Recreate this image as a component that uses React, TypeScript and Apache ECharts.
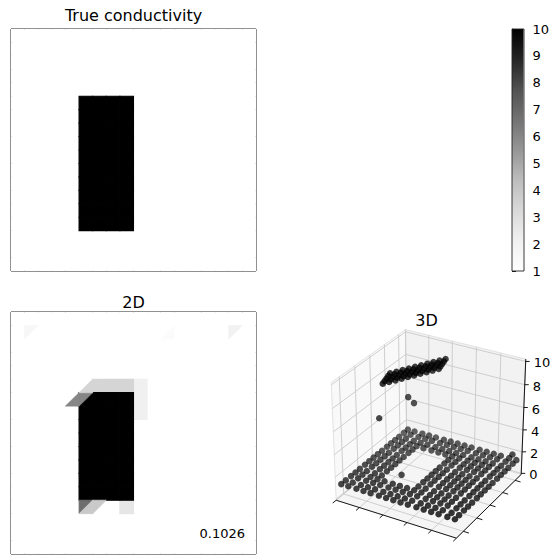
import React, { useEffect, useRef } from 'react';
import * as echarts from 'echarts';

const FONT = 'DejaVu Sans';

// ---------- colour scale (matplotlib "Greys") ----------
const greysStops = ['#ffffff', '#f0f0f0', '#d9d9d9', '#bdbdbd', '#969696', '#737373', '#525252', '#252525', '#000000'];
const valueMin = 1;
const valueMax = 10;

// ---------- True conductivity (18 x 18 cells, '.' = 1, '#' = 10) ----------
const trueMap = [
  '..................',
  '..................',
  '..................',
  '..................',
  '..................',
  '.....####.........',
  '.....####.........',
  '.....####.........',
  '.....####.........',
  '.....####.........',
  '.....####.........',
  '.....####.........',
  '.....####.........',
  '.....####.........',
  '.....####.........',
  '..................',
  '..................',
  '..................',
];

// ---------- 2D reconstruction (18 x 18 cells, split into triangles) ----------
const recon2DMap = [
  '..................',
  '..................',
  '..................',
  '..................',
  '..................',
  '......lllv........',
  '.....####v........',
  '.....####v........',
  '.....####.........',
  '.....####.........',
  '.....####.........',
  '.....####.........',
  '.....####.........',
  '.....####.........',
  '........m.........',
  '..................',
  '..................',
  '..................',
];
const mapLegend: Record<string, number> = { '.': 1, '#': 10, l: 3.4, v: 2.1, m: 2.6 };
// [col, row, value, shape (1 = upper-left half, 2 = lower-right half)]
const recon2DTriangles: number[][] = [
  [4, 6, 6.0, 2],
  [5, 6, 6.0, 1],
  [5, 5, 3.4, 2],
  [5, 14, 6.8, 1],
  [5, 14, 3.9, 2],
  [6, 14, 3.9, 1],
  [1, 1, 1.6, 1],
  [11, 1, 1.3, 2],
  [16, 1, 2.0, 1],
  [16, 16, 1.5, 2],
];
const relError = '0.1026';

// ---------- 3D scatter ----------
const nodeX = [0.03, 0.09, 0.16, 0.22, 0.28, 0.35, 0.41, 0.47, 0.53, 0.59, 0.66, 0.72, 0.78, 0.84, 0.91, 0.97];
const nodeY = [0.03, 0.09, 0.16, 0.22, 0.28, 0.35, 0.41, 0.47, 0.53, 0.59, 0.66, 0.72, 0.78, 0.84, 0.91, 0.97];
// row j -> nodeY[j] (front to back), char i -> nodeX[i]; '.' = point at floorZ
const floorMap = [
  '................',
  '................',
  '................',
  '................',
  '....    ........',
  '....    ........',
  '....    ........',
  '....    ........',
  '....    ........',
  '....    ........',
  '....    ........',
  '....    ........',
  '................',
  '................',
  '................',
  '................',
];
const floorZ = 1.3;
const topStripeX = [0.25, 0.275, 0.3, 0.325, 0.35, 0.375, 0.4, 0.425, 0.45, 0.475];
const topStripeY = [
  [0.27, 0.295, 0.32, 0.345, 0.37],
  [0.314, 0.339, 0.364, 0.389, 0.414],
  [0.358, 0.383, 0.408, 0.433, 0.458],
  [0.402, 0.427, 0.452, 0.477, 0.502],
  [0.446, 0.471, 0.496, 0.521, 0.546],
  [0.49, 0.515, 0.54, 0.565, 0.59],
  [0.534, 0.559, 0.584, 0.609, 0.634],
  [0.578, 0.603, 0.628, 0.653, 0.678],
  [0.622, 0.647, 0.672, 0.697, 0.722],
  [0.666, 0.691, 0.716, 0.741, 0.766],
];
const topStripeZ = [9.5, 9.6, 9.7, 9.8, 9.9];
const strayX = [0.34, 0.1, 0.15, 0.2, 0.97];
const strayY = [0.36, 0.45, 0.78, 0.78, 0.9];
const strayZ = [1.3, 5.2, 5.6, 5.2, 2.2];

const xTicks3d = [0, 0.2, 0.4, 0.6, 0.8, 1];
const yTicks3d = [0.1, 0.3, 0.5, 0.7, 0.9];
const zTicks3d = [0, 2, 4, 6, 8, 10];
const zLim = [-0.1, 10.2];

// ---------- helpers ----------
function hexRgb(h: string) {
  return [1, 3, 5].map((k) => parseInt(h.slice(k, k + 2), 16));
}
function greyColor(v: number) {
  const t = Math.min(1, Math.max(0, (v - valueMin) / (valueMax - valueMin)));
  const p = t * (greysStops.length - 1);
  const i = Math.min(greysStops.length - 2, Math.floor(p));
  const f = p - i;
  const a = hexRgb(greysStops[i]);
  const b = hexRgb(greysStops[i + 1]);
  const c = a.map((x, k) => Math.round(x + (b[k] - x) * f));
  return `rgb(${c.join(',')})`;
}

// matplotlib-like 3D view (elev 30, azim -60, dist 10)
const ELEV = 30;
const AZIM = -60;
const DIST = 10;
const VIEW_CX = 430.1;
const VIEW_CY = 430.3;
const VIEW_KX = 1388;
const VIEW_KY = 1345;
const cam = (() => {
  const e = (ELEV * Math.PI) / 180;
  const a = (AZIM * Math.PI) / 180;
  const R = [0.5, 0.5, 0.5];
  const E = [R[0] + Math.cos(a) * Math.cos(e) * DIST, R[1] + Math.sin(a) * Math.cos(e) * DIST, R[2] + Math.sin(e) * DIST];
  const nn = [E[0] - R[0], E[1] - R[1], E[2] - R[2]];
  const nl = Math.hypot(nn[0], nn[1], nn[2]);
  const n = nn.map((x) => x / nl);
  const uu = [-n[1], n[0], 0];
  const ul = Math.hypot(uu[0], uu[1], uu[2]);
  const u = uu.map((x) => x / ul);
  const v = [n[1] * u[2] - n[2] * u[1], n[2] * u[0] - n[0] * u[2], n[0] * u[1] - n[1] * u[0]];
  return { E, n, u, v };
})();
function project(x: number, y: number, z: number) {
  const zn = (z - zLim[0]) / (zLim[1] - zLim[0]);
  const d = [x - cam.E[0], y - cam.E[1], zn - cam.E[2]];
  const depth = -(cam.n[0] * d[0] + cam.n[1] * d[1] + cam.n[2] * d[2]);
  const X = (cam.u[0] * d[0] + cam.u[1] * d[1] + cam.u[2] * d[2]) / depth;
  const Y = (cam.v[0] * d[0] + cam.v[1] * d[1] + cam.v[2] * d[2]) / depth;
  return [VIEW_CX + VIEW_KX * X, VIEW_CY - VIEW_KY * Y, depth];
}

function cellsFromMap(map: string[], legend: Record<string, number>) {
  const out: number[][] = [];
  map.forEach((row, r) => {
    row.split('').forEach((ch, c) => {
      out.push([c, r, legend[ch] ?? 1, 0]);
    });
  });
  out.sort((a, b) => a[2] - b[2]);
  return out;
}

function renderCell(params: any, api: any) {
  const c = api.value(0);
  const r = api.value(1);
  const v = api.value(2);
  const s = api.value(3);
  const tl = api.coord([c, r]);
  const br = api.coord([c + 1, r + 1]);
  const tr = [br[0], tl[1]];
  const bl = [tl[0], br[1]];
  let pts;
  if (s === 1) pts = [tl, tr, bl];
  else if (s === 2) pts = [tr, br, bl];
  else pts = [tl, tr, br, bl];
  const col = greyColor(v);
  return {
    type: 'polygon',
    shape: { points: pts },
    style: { fill: col, stroke: v > 1 ? col : null, lineWidth: s === 0 ? 1.1 : 0.8, lineJoin: 'miter' },
  };
}

function buildScatter() {
  const pts: number[][] = [];
  floorMap.forEach((row, j) => {
    row.split('').forEach((ch, i) => {
      if (ch === '.') pts.push([nodeX[i], nodeY[j], floorZ]);
    });
  });
  topStripeX.forEach((x, k) => {
    topStripeY[k].forEach((y, m) => pts.push([x, y, topStripeZ[m]]));
  });
  strayX.forEach((x, k) => pts.push([x, strayY[k], strayZ[k]]));
  const proj = pts.map((p) => project(p[0], p[1], p[2]));
  const dmin = Math.min(...proj.map((p) => p[2]));
  const dmax = Math.max(...proj.map((p) => p[2]));
  proj.sort((a, b) => b[2] - a[2]);
  return proj.map((p) => {
    const alpha = 1 - 0.25 * ((p[2] - dmin) / (dmax - dmin));
    return { value: [p[0], p[1]], itemStyle: { color: `rgba(0,0,0,${alpha.toFixed(3)})` } };
  });
}

function renderBox(params: any, api: any) {
  const z0 = zLim[0];
  const z1 = zLim[1];
  const P = (x: number, y: number, z: number) => {
    const p = project(x, y, z);
    return api.coord([p[0], p[1]]);
  };
  const children: any[] = [];
  const gridCol = '#cacaca';
  const poly = (pts: number[][], fill: string) =>
    children.push({ type: 'polygon', shape: { points: pts }, style: { fill, stroke: '#dcdcdc', lineWidth: 0.8 } });
  const line = (a: number[], b: number[], stroke: string, w: number) =>
    children.push({ type: 'line', shape: { x1: a[0], y1: a[1], x2: b[0], y2: b[1] }, style: { stroke, lineWidth: w } });

  poly([P(0, 0, z0), P(0, 1, z0), P(0, 1, z1), P(0, 0, z1)], '#f9f9f9');
  poly([P(0, 1, z0), P(1, 1, z0), P(1, 1, z1), P(0, 1, z1)], '#f2f2f2');
  poly([P(0, 0, z0), P(1, 0, z0), P(1, 1, z0), P(0, 1, z0)], '#f5f5f5');

  xTicks3d.forEach((x) => {
    line(P(x, 0, z0), P(x, 1, z0), gridCol, 0.9);
    line(P(x, 1, z0), P(x, 1, z1), gridCol, 0.9);
  });
  yTicks3d.forEach((y) => {
    line(P(0, y, z0), P(1, y, z0), gridCol, 0.9);
    line(P(0, y, z0), P(0, y, z1), gridCol, 0.9);
  });
  zTicks3d.forEach((z) => {
    line(P(0, 0, z), P(0, 1, z), gridCol, 0.9);
    line(P(0, 1, z), P(1, 1, z), gridCol, 0.9);
  });

  line(P(0, 0, z0), P(1, 0, z0), '#000', 0.9);
  line(P(1, 0, z0), P(1, 1, z0), '#000', 0.9);
  line(P(1, 1, z0), P(1, 1, z1), '#000', 0.9);
  xTicks3d.forEach((x) => line(P(x, 0.0, z0), P(x, -0.045, z0), '#000', 0.9));
  yTicks3d.forEach((y) => line(P(1.0, y, z0), P(1.045, y, z0), '#000', 0.9));
  zTicks3d.forEach((z) => {
    const a = P(1, 1, z);
    line(a, [a[0] + 4, a[1]], '#000', 0.9);
    children.push({
      type: 'text',
      x: a[0] + 8,
      y: a[1] + 1.5,
      style: { text: String(z), fontSize: 13, fontFamily: FONT, fill: '#000', align: 'left', verticalAlign: 'middle' },
    });
  });
  return { type: 'group', children };
}

function renderColorbar(params: any, api: any) {
  const a = api.coord([0, valueMax]);
  const b = api.coord([1, valueMin]);
  const last = greysStops.length - 1;
  const stops = greysStops.map((c, k) => ({ offset: k / last, color: greysStops[last - k] }));
  return {
    type: 'rect',
    shape: { x: a[0], y: a[1], width: b[0] - a[0], height: b[1] - a[1] },
    style: { fill: new echarts.graphic.LinearGradient(0, 0, 0, 1, stops) },
  };
}

function buildOption() {
  const titleStyle = (text: string, x: number, y: number, size: number, align = 'center') => ({
    type: 'text',
    x,
    y,
    z: 100,
    style: { text, fontSize: size, fontFamily: FONT, fill: '#000', align, verticalAlign: 'middle' },
  });
  const trueCells = cellsFromMap(trueMap, { '.': 1, '#': 10 });
  const reconCells = cellsFromMap(recon2DMap, mapLegend).concat(recon2DTriangles);
  return {
    animation: false,
    backgroundColor: '#ffffff',
    textStyle: { fontFamily: FONT },
    grid: [
      { left: 11, top: 29, width: 245, height: 242, show: true, borderColor: '#222', borderWidth: 1, backgroundColor: '#fff' },
      { left: 11, top: 312, width: 245, height: 242, show: true, borderColor: '#222', borderWidth: 1, backgroundColor: '#fff' },
      { left: 0, top: 0, width: 552, height: 556, show: false },
      { left: 512, top: 29, width: 12, height: 242, show: false },
    ],
    xAxis: [
      { gridIndex: 0, type: 'value', min: 0, max: 18, show: false },
      { gridIndex: 1, type: 'value', min: 0, max: 18, show: false },
      { gridIndex: 2, type: 'value', min: 0, max: 552, show: false },
      { gridIndex: 3, type: 'value', min: 0, max: 1, show: false },
    ],
    yAxis: [
      { gridIndex: 0, type: 'value', min: 0, max: 18, inverse: true, show: false },
      { gridIndex: 1, type: 'value', min: 0, max: 18, inverse: true, show: false },
      { gridIndex: 2, type: 'value', min: 0, max: 556, inverse: true, show: false },
      {
        gridIndex: 3,
        type: 'value',
        min: valueMin,
        max: valueMax,
        interval: 1,
        position: 'right',
        axisLine: { show: true, lineStyle: { color: '#222', width: 0.8 } },
        axisTick: { show: true, length: 4, lineStyle: { color: '#000', width: 0.9 } },
        axisLabel: { show: true, color: '#000', fontSize: 13, fontFamily: FONT, margin: 9 },
        splitLine: { show: false },
      },
    ],
    series: [
      {
        type: 'custom',
        name: 'True conductivity',
        xAxisIndex: 0,
        yAxisIndex: 0,
        data: trueCells,
        encode: { x: 0, y: 1 },
        renderItem: renderCell,
        silent: true,
      },
      {
        type: 'custom',
        name: '2D',
        xAxisIndex: 1,
        yAxisIndex: 1,
        data: reconCells,
        encode: { x: 0, y: 1 },
        renderItem: renderCell,
        silent: true,
      },
      {
        type: 'custom',
        name: '3D box',
        xAxisIndex: 2,
        yAxisIndex: 2,
        data: [[0, 0]],
        encode: { x: 0, y: 1 },
        renderItem: renderBox,
        silent: true,
        z: 1,
      },
      {
        type: 'scatter',
        name: '3D',
        xAxisIndex: 2,
        yAxisIndex: 2,
        data: buildScatter(),
        symbol: 'circle',
        symbolSize: 6.5,
        silent: true,
        z: 3,
      },
      {
        type: 'custom',
        name: 'colorbar',
        xAxisIndex: 3,
        yAxisIndex: 3,
        data: [[0, valueMin]],
        encode: { x: 0, y: 1 },
        renderItem: renderColorbar,
        silent: true,
        z: 1,
      },
    ],
    graphic: [
      titleStyle('True conductivity', 133.5, 15.5, 16),
      titleStyle('2D', 133.5, 302, 16),
      titleStyle('3D', 426.5, 320, 16),
      titleStyle(relError, 245, 533, 13, 'right'),
      {
        type: 'rect',
        shape: { x: 512, y: 29, width: 12, height: 242 },
        style: { fill: 'none', stroke: '#222', lineWidth: 0.9 },
        z: 100,
      },
    ],
  };
}

export default function App() {
  const ref = useRef<HTMLDivElement>(null);
  useEffect(() => {
    const chart = echarts.init(ref.current as HTMLDivElement, undefined, { renderer: 'svg', width: 552, height: 556 });
    chart.setOption(buildOption() as any);
    return () => chart.dispose();
  }, []);
  return <div ref={ref} style={{ position: 'absolute', left: 0, top: 0, width: 552, height: 556 }} />;
}
